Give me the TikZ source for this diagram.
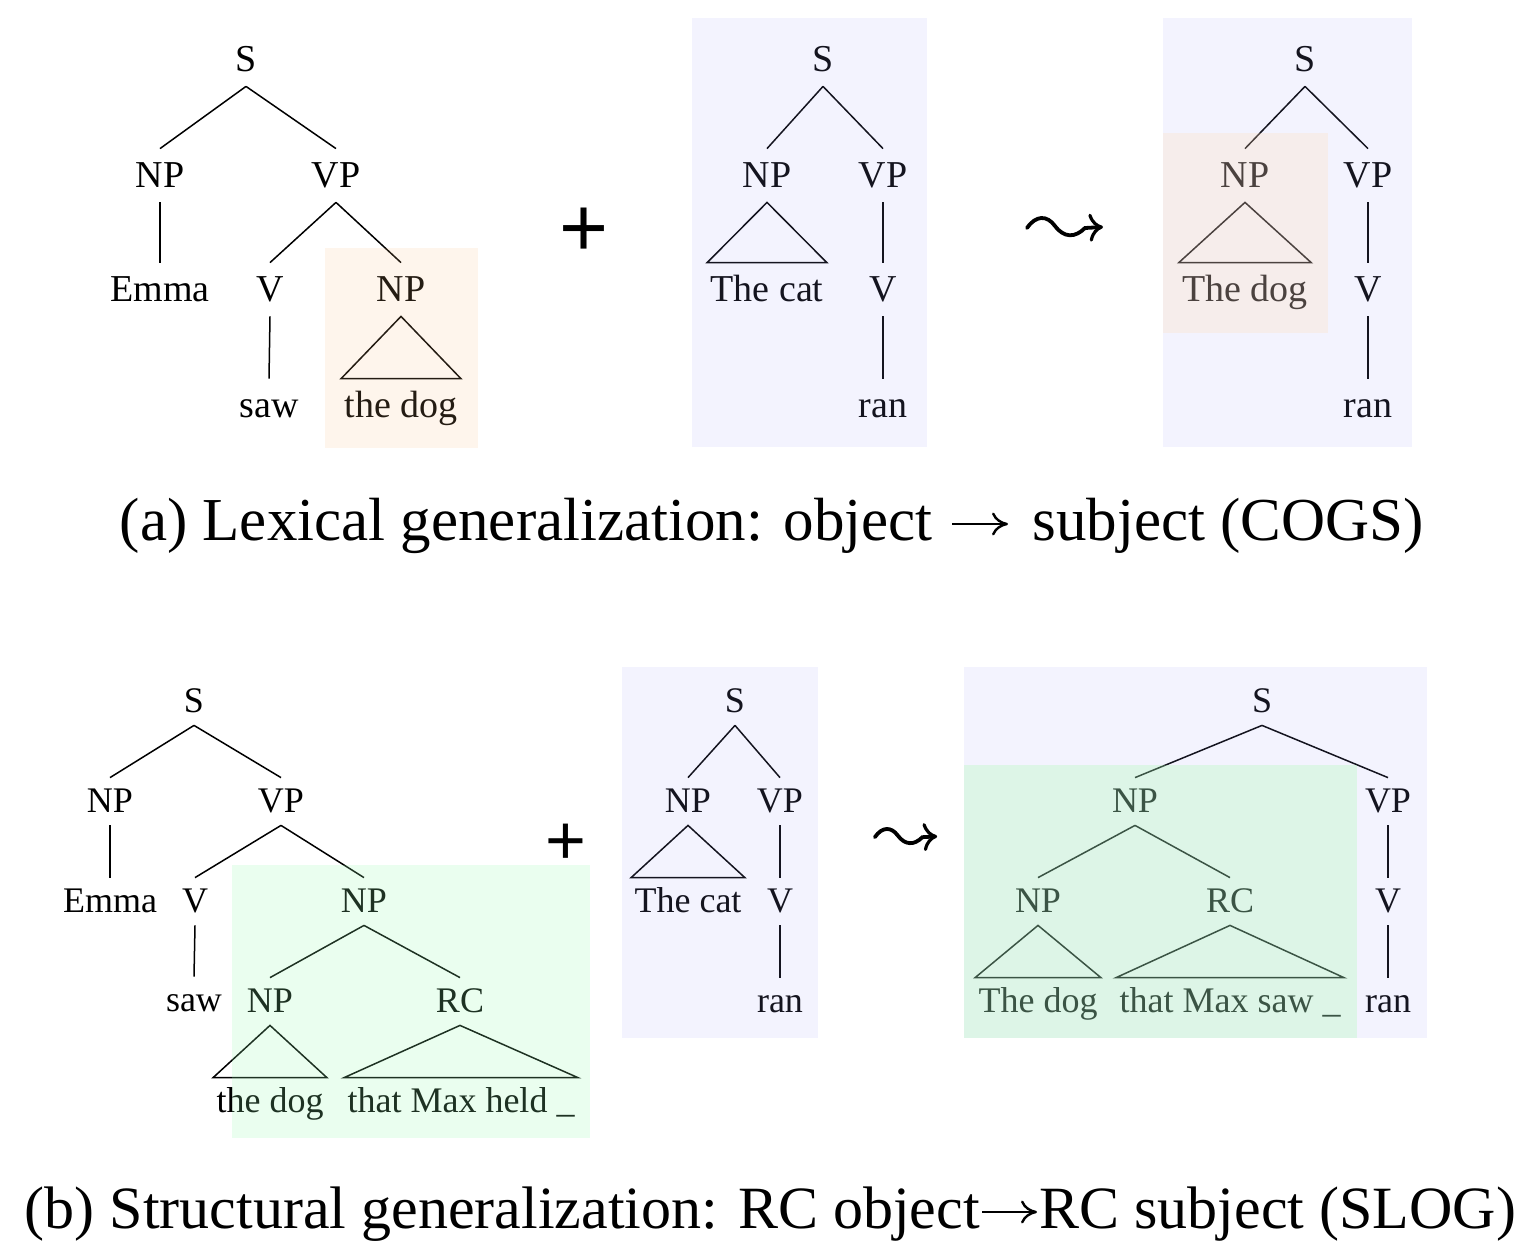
\documentclass[tikz,border=0pt]{standalone}
\usepackage{fontspec}
\usetikzlibrary{arrows.meta}
\setmainfont{Liberation Serif}
\newfontfamily\plusfont{Liberation Sans}
\definecolor{blueov}{RGB}{160,160,248}
\definecolor{orangeA}{RGB}{248,188,128}
\definecolor{orangeC}{RGB}{255,216,171}
\definecolor{greenD}{RGB}{150,250,175}
\definecolor{greenF}{RGB}{163,252,170}
\begin{document}
\begin{tikzpicture}[x=0.5pt,y=-0.5pt,
  ta/.style={font=\fontsize{19}{22}\selectfont, inner xsep=1.5pt, inner ysep=0pt, text height=19pt, text depth=7.5pt, anchor=base},
  tb/.style={font=\fontsize{18}{21}\selectfont, inner xsep=1.5pt, inner ysep=0pt, text height=17pt, text depth=6.5pt, anchor=base},
  lnk/.style={line width=0.75pt, black},
  plusA/.style={font=\plusfont\fontsize{42}{48}\selectfont, inner sep=0pt, anchor=center},
  plusB/.style={font=\plusfont\fontsize{35}{40}\selectfont, inner sep=0pt, anchor=center},
  captxt/.style={font=\fontsize{#1}{36}\selectfont, inner sep=0pt},
  caparr/.style={line width=1.2pt, -{Computer Modern Rightarrow[length=8pt, width=11.5pt, line width=1.2pt]}},
  ovl/.style={fill opacity=#1},
  squig/.pic={
    \draw[line width=1.9pt, line cap=round,
      -{Computer Modern Rightarrow[length=7pt, width=14pt, line width=1.6pt]}]
      (-38,-1) .. controls (-29,-14) and (-18,-14) .. (-10,-3)
      .. controls (-1,9) and (10,9) .. (20,-1) -- (38,-2);
  }]
\useasboundingbox (0,0) rectangle (1532,1254);

% ---------- (a) tree 1 ----------
\node[ta] (aS) at (246,71) {S};
\node[ta] (aNP) at (160,187) {NP};
\node[ta] (aVP) at (336,187) {VP};
\node[ta] (aEmma) at (160,301) {Emma};
\node[ta] (aV) at (270,301) {V};
\node[ta] (aNPo) at (401,301) {NP};
\node[ta] (asaw) at (269,417) {saw};
\node[ta] (adog) at (401,417) {the dog};
\draw[lnk] (aS.south) -- (aNP.north);
\draw[lnk] (aS.south) -- (aVP.north);
\draw[lnk] (aNP.south) -- (aEmma.north);
\draw[lnk] (aVP.south) -- (aV.north);
\draw[lnk] (aVP.south) -- (aNPo.north);
\draw[lnk] (aV.south) -- (asaw.north);
\draw[lnk] (aNPo.south) -- (adog.north east) -- (adog.north west) -- cycle;

\node[plusA] (aplus) at (584,232) {+};

% ---------- (a) tree 2 ----------
\node[ta] (bS) at (823,71) {S};
\node[ta] (bNP) at (767,187) {NP};
\node[ta] (bVP) at (883,187) {VP};
\node[ta] (bcat) at (767,301) {The cat};
\node[ta] (bV) at (883,301) {V};
\node[ta] (bran) at (883,417) {ran};
\draw[lnk] (bS.south) -- (bNP.north);
\draw[lnk] (bS.south) -- (bVP.north);
\draw[lnk] (bNP.south) -- (bcat.north east) -- (bcat.north west) -- cycle;
\draw[lnk] (bVP.south) -- (bV.north);
\draw[lnk] (bV.south) -- (bran.north);

\pic at (1065,229) {squig};

% ---------- (a) tree 3 ----------
\node[ta] (cS) at (1305,71) {S};
\node[ta] (cNP) at (1245,187) {NP};
\node[ta] (cVP) at (1368,187) {VP};
\node[ta] (cdog) at (1245,301) {The dog};
\node[ta] (cV) at (1368,301) {V};
\node[ta] (cran) at (1368,417) {ran};
\draw[lnk] (cS.south) -- (cNP.north);
\draw[lnk] (cS.south) -- (cVP.north);
\draw[lnk] (cNP.south) -- (cdog.north east) -- (cdog.north west) -- cycle;
\draw[lnk] (cVP.south) -- (cV.north);
\draw[lnk] (cV.south) -- (cran.north);

% caption (a)
\node[captxt=30.5, anchor=base east] (capa1) at (933,540) {(a) Lexical generalization: object};
\node[captxt=30.5, anchor=base west] (capa2) at (1032,540) {subject (COGS)};
\draw[caparr] ([xshift=9.5pt,yshift=8pt]capa1.base east) -- ([xshift=-12pt,yshift=8pt]capa2.base west);

% ---------- (b) tree 1 ----------
\node[tb] (dS) at (194,712) {S};
\node[tb] (dNP) at (110,812) {NP};
\node[tb] (dVP) at (281,812) {VP};
\node[tb] (dEmma) at (110,912) {Emma};
\node[tb] (dV) at (195,912) {V};
\node[tb] (dNPo) at (364,912) {NP};
\node[tb] (dsaw) at (194,1011) {saw};
\node[tb] (dNPs) at (270,1012) {NP};
\node[tb] (dRC) at (460,1012) {RC};
\node[tb] (ddog) at (270,1112) {the dog};
\node[tb] (dheld) at (461,1112) {that Max held \_};
\draw[lnk] (dS.south) -- (dNP.north);
\draw[lnk] (dS.south) -- (dVP.north);
\draw[lnk] (dNP.south) -- (dEmma.north);
\draw[lnk] (dVP.south) -- (dV.north);
\draw[lnk] (dVP.south) -- (dNPo.north);
\draw[lnk] (dV.south) -- (dsaw.north);
\draw[lnk] (dNPo.south) -- (dNPs.north);
\draw[lnk] (dNPo.south) -- (dRC.north);
\draw[lnk] (dNPs.south) -- (ddog.north east) -- (ddog.north west) -- cycle;
\draw[lnk] (dRC.south) -- (dheld.north east) -- (dheld.north west) -- cycle;

\node[plusB] (bplus) at (566,844) {+};

% ---------- (b) tree 2 ----------
\node[tb] (eS) at (735,712) {S};
\node[tb] (eNP) at (688,812) {NP};
\node[tb] (eVP) at (780,812) {VP};
\node[tb] (ecat) at (688,912) {The cat};
\node[tb] (eV) at (780,912) {V};
\node[tb] (eran) at (780,1012) {ran};
\draw[lnk] (eS.south) -- (eNP.north);
\draw[lnk] (eS.south) -- (eVP.north);
\draw[lnk] (eNP.south) -- (ecat.north east) -- (ecat.north west) -- cycle;
\draw[lnk] (eVP.south) -- (eV.north);
\draw[lnk] (eV.south) -- (eran.north);

\pic[scale=0.82] at (906,838) {squig};

% ---------- (b) tree 3 ----------
\node[tb] (fS) at (1262,712) {S};
\node[tb] (fNP) at (1135,812) {NP};
\node[tb] (fVP) at (1388,812) {VP};
\node[tb] (fNPs) at (1038,912) {NP};
\node[tb] (fRC) at (1230,912) {RC};
\node[tb] (fV) at (1388,912) {V};
\node[tb] (fdog) at (1038,1012) {The dog};
\node[tb] (fsaw) at (1230,1012) {that Max saw \_};
\node[tb] (fran) at (1388,1012) {ran};
\draw[lnk] (fS.south) -- (fNP.north);
\draw[lnk] (fS.south) -- (fVP.north);
\draw[lnk] (fNP.south) -- (fNPs.north);
\draw[lnk] (fNP.south) -- (fRC.north);
\draw[lnk] (fNPs.south) -- (fdog.north east) -- (fdog.north west) -- cycle;
\draw[lnk] (fRC.south) -- (fsaw.north east) -- (fsaw.north west) -- cycle;
\draw[lnk] (fVP.south) -- (fV.north);
\draw[lnk] (fV.south) -- (fran.north);

% caption (b)
\node[captxt=30, anchor=base east] (capb1) at (980,1228) {(b) Structural generalization: RC object};
\node[captxt=30, anchor=base west] (capb2) at (1039,1228) {RC subject (SLOG)};
\draw[caparr] ([xshift=1pt,yshift=8pt]capb1.base east) -- ([xshift=-1pt,yshift=8pt]capb2.base west);

% ---------- highlight overlays ----------
\fill[blueov, ovl=0.125] (692,18) rectangle (927,447);
\fill[blueov, ovl=0.125] (1163,18) rectangle (1412,447);
\fill[blueov, ovl=0.125] (622,667) rectangle (818,1038);
\fill[blueov, ovl=0.125] (964,667) rectangle (1427,1038);
\fill[orangeA, ovl=0.15] (325,248) rectangle (478,448);
\fill[orangeC, ovl=0.235] (1163,133) rectangle (1328,333);
\fill[greenD, ovl=0.2] (232,865) rectangle (590,1138);
\fill[greenF, ovl=0.28] (964,765) rectangle (1357,1038);
\end{tikzpicture}
\end{document}
